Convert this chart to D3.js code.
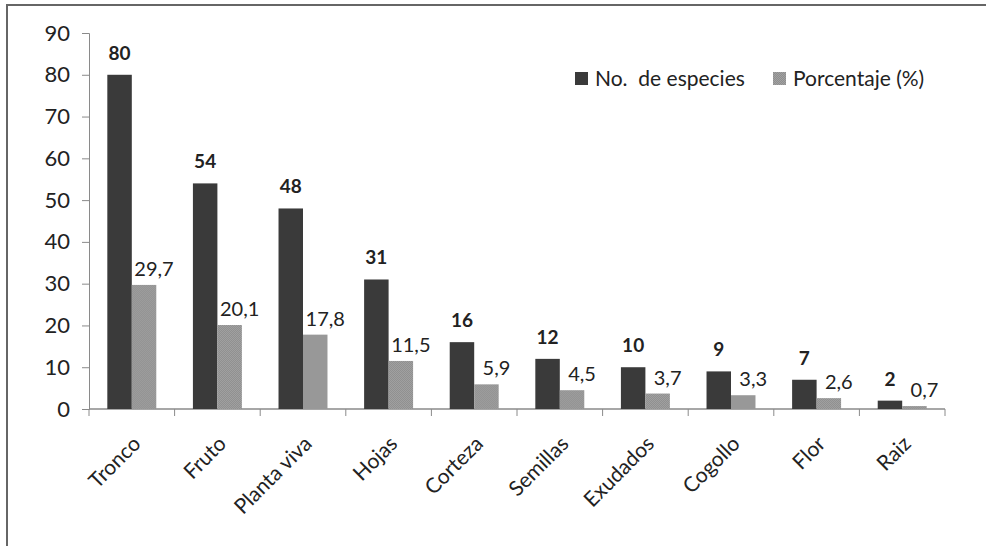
<!DOCTYPE html>
<html>
<head>
<meta charset="utf-8">
<script src="https://cdn.jsdelivr.net/npm/d3@7.9.0/dist/d3.min.js"></script>
<style>
  body { margin: 0; background: #fff; }
  svg { display: block; font-family: Lato, 'Open Sans', sans-serif; }
</style>
</head>
<body>
<svg id="chart" width="986" height="546"></svg>
<script>
// DATA
const categories = ['Tronco', 'Fruto', 'Planta viva', 'Hojas', 'Corteza', 'Semillas', 'Exudados', 'Cogollo', 'Flor', 'Raiz'];
const especies = [80, 54, 48, 31, 16, 12, 10, 9, 7, 2];
const porcentaje = [29.7, 20.1, 17.8, 11.5, 5.9, 4.5, 3.7, 3.3, 2.6, 0.7];
const yTicks = [0, 10, 20, 30, 40, 50, 60, 70, 80, 90];
const seriesNames = ['No.  de especies', 'Porcentaje (%)'];

const svg = d3.select('#chart');
const darkColor = '#3a3a3a';
const axisColor = '#8a8a8a';

// light bar texture
const defs = svg.append('defs');
const pat = defs.append('pattern')
  .attr('id', 'dots')
  .attr('width', 2).attr('height', 2)
  .attr('patternUnits', 'userSpaceOnUse');
pat.append('rect').attr('width', 2).attr('height', 2).attr('fill', '#a2a2a2');
pat.append('rect').attr('width', 1).attr('height', 1).attr('fill', '#8e8e8e');
pat.append('rect').attr('x', 1).attr('y', 1).attr('width', 1).attr('height', 1).attr('fill', '#8e8e8e');

// frame
svg.append('path')
  .attr('d', 'M7,546 V5 H986')
  .attr('fill', 'none')
  .attr('stroke', '#666')
  .attr('stroke-width', 2);

// SCALES
const x0 = d3.scaleBand()
  .domain(categories)
  .range([89, 945])
  .paddingInner(0.428)
  .paddingOuter(0.214);

const x1 = d3.scaleBand()
  .domain([0, 1])
  .range([0, x0.bandwidth()]);

const y = d3.scaleLinear()
  .domain([0, 90])
  .range([409, 33]);

const fmt = d3.formatLocale({ decimal: ',', thousands: '.', grouping: [3], currency: ['', ''] }).format('.1f');

// Y AXIS
const yAxis = svg.append('g')
  .attr('transform', 'translate(89,0)')
  .call(d3.axisLeft(y).tickValues(yTicks).tickSize(7).tickPadding(12).tickFormat(d3.format('d')));
yAxis.select('.domain').attr('stroke', axisColor);
yAxis.selectAll('.tick line').attr('stroke', axisColor);
yAxis.selectAll('.tick text')
  .attr('fill', '#222')
  .style('font-size', '22px')
  .style('font-family', 'Lato, sans-serif');

// X AXIS (line + ticks between categories)
const step = x0.step();
const xAxis = svg.append('g').attr('transform', `translate(0,${y(0)})`);
xAxis.append('line')
  .attr('x1', 89).attr('x2', 945)
  .attr('stroke', axisColor).attr('stroke-width', 1.5);
xAxis.selectAll('line.tk')
  .data(d3.range(categories.length + 1))
  .join('line')
  .attr('class', 'tk')
  .attr('x1', i => 89 + i * step)
  .attr('x2', i => 89 + i * step)
  .attr('y1', 0).attr('y2', 7)
  .attr('stroke', axisColor);

// category labels
xAxis.selectAll('text.cat')
  .data(categories)
  .join('text')
  .attr('class', 'cat')
  .attr('transform', d => `translate(${x0(d) + x0.bandwidth() / 2 - 1},${25}) rotate(-45)`)
  .attr('text-anchor', 'end')
  .attr('dy', '0.75em')
  .attr('fill', '#222')
  .style('font-size', '21px')
  .text(d => d);

// BARS
const groups = svg.selectAll('g.grp')
  .data(categories)
  .join('g')
  .attr('class', 'grp')
  .attr('transform', d => `translate(${x0(d)},0)`);

// light labels (drawn under bars)
groups.append('text')
  .attr('x', (d, i) => x1(1) + x1.bandwidth() / 2 + 10)
  .attr('y', (d, i) => y(porcentaje[i]) - 9)
  .attr('text-anchor', 'middle')
  .attr('fill', '#222')
  .style('font-size', '20px')
  .text((d, i) => fmt(porcentaje[i]));

groups.append('rect')
  .attr('x', x1(0))
  .attr('width', x1.bandwidth())
  .attr('y', (d, i) => y(especies[i]))
  .attr('height', (d, i) => y(0) - y(especies[i]))
  .attr('fill', darkColor);

groups.append('rect')
  .attr('x', x1(1))
  .attr('width', x1.bandwidth())
  .attr('y', (d, i) => y(porcentaje[i]))
  .attr('height', (d, i) => y(0) - y(porcentaje[i]))
  .attr('fill', 'url(#dots)');

groups.append('text')
  .attr('x', x1(0) + x1.bandwidth() / 2)
  .attr('y', (d, i) => y(especies[i]) - 15)
  .attr('text-anchor', 'middle')
  .attr('fill', '#222')
  .style('font-size', '19px')
  .style('font-weight', 'bold')
  .text((d, i) => especies[i]);

// LEGEND
const legendX = [575, 773];
const legend = svg.selectAll('g.leg')
  .data(seriesNames)
  .join('g')
  .attr('class', 'leg')
  .attr('transform', (d, i) => `translate(${legendX[i]},72)`);
legend.append('rect')
  .attr('width', 13).attr('height', 13)
  .attr('fill', (d, i) => i === 0 ? darkColor : 'url(#dots)');
legend.append('text')
  .attr('x', 20).attr('y', 14)
  .attr('fill', '#222')
  .style('font-size', '21px')
  .style('white-space', 'pre')
  .attr('xml:space', 'preserve')
  .text(d => d);
</script>
</body>
</html>
